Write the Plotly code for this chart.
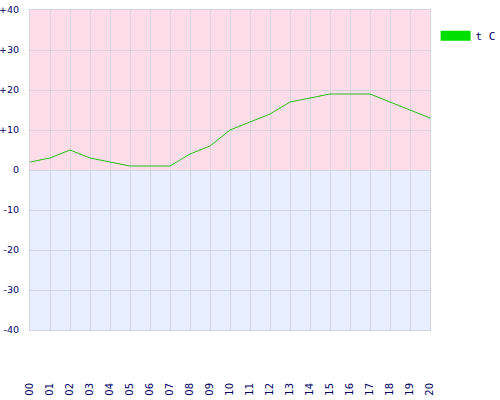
import plotly.graph_objects as go

hours = ["00","01","02","03","04","05","06","07","08","09","10",
         "11","12","13","14","15","16","17","18","19","20"]
temps = [2, 3, 5, 3, 2, 1, 1, 1, 4, 6, 10, 12, 14, 17, 18, 19, 19, 19, 17, 15, 13]
y_ticks = [40, 30, 20, 10, 0, -10, -20, -30, -40]
y_tick_text = ["+40", "+30", "+20", "+10", "0", "-10", "-20", "-30", "-40"]
series_name = "t C"

xs = list(range(len(hours)))

fig = go.Figure()
fig.add_trace(go.Scatter(x=xs, y=temps, mode="lines",
                         line=dict(color="#22C022", width=1),
                         showlegend=False, hoverinfo="skip"))
fig.add_trace(go.Scatter(x=[None], y=[None], mode="lines", name=series_name,
                         line=dict(color="#00E000", width=10)))

# background bands
fig.add_hrect(y0=0, y1=40, fillcolor="#FFDDE8", line_width=0, layer="below")
fig.add_hrect(y0=-40, y1=0, fillcolor="#E6EEFF", line_width=0, layer="below")

navy = "#000066"
fig.update_layout(
    width=500, height=400,
    margin=dict(l=30, r=70, t=10, b=70, autoexpand=False),
    paper_bgcolor="white", plot_bgcolor="white",
    font=dict(family="DejaVu Sans", size=10, color=navy),
    legend=dict(x=1.014, y=0.965, xanchor="left", yanchor="top",
                font=dict(family="DejaVu Sans Mono", size=11, color=navy),
                itemwidth=30, bgcolor="rgba(0,0,0,0)"),
    xaxis=dict(range=[0, len(hours) - 1], tickvals=xs, ticktext=hours,
               tickangle=-90, showgrid=True, gridcolor="#D4D4DC", gridwidth=1,
               zeroline=False, showline=True, linecolor="#D4D4DC", mirror=True,
               ticks="", ticklabelstandoff=48, automargin=False,
               tickfont=dict(family="DejaVu Sans", size=10, color=navy)),
    yaxis=dict(range=[-40, 40], tickvals=y_ticks, ticktext=y_tick_text,
               showgrid=True, gridcolor="#D4D4DC", gridwidth=1,
               zeroline=False, showline=True, linecolor="#D4D4DC", mirror=True,
               ticks="", ticklabelstandoff=8, automargin=False,
               tickfont=dict(family="DejaVu Sans", size=9.5, color=navy)),
)

fig.write_html("out.html",
               config={"displayModeBar": False},
               post_script="document.body.style.margin='0';document.body.style.overflow='hidden';")
